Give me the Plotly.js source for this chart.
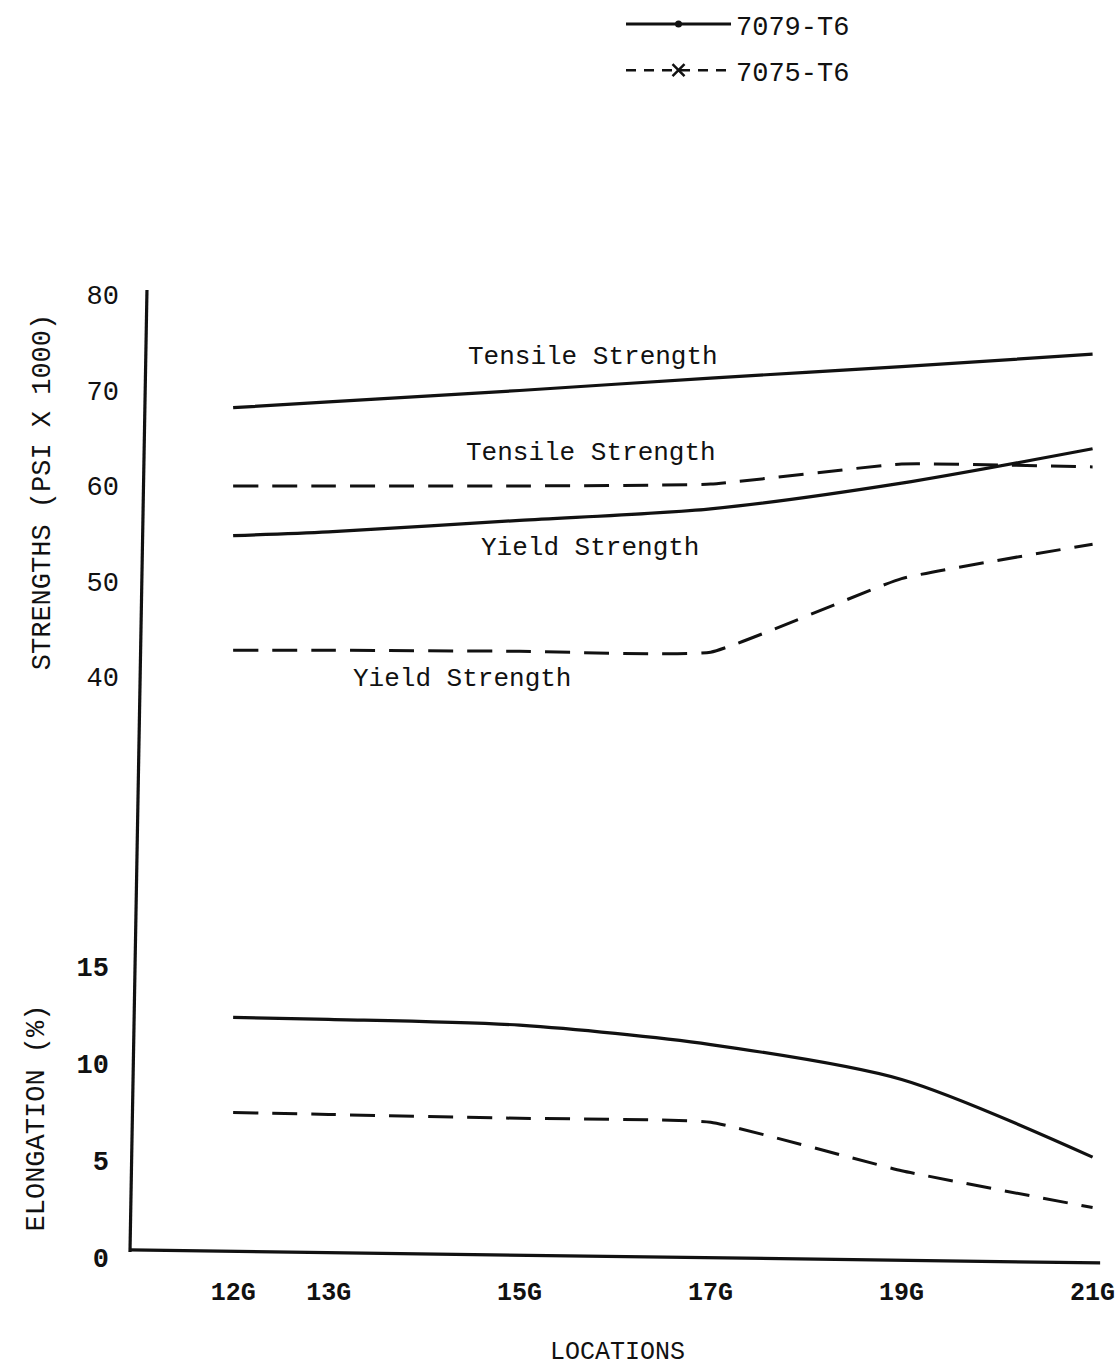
<!DOCTYPE html>
<html>
<head>
<meta charset="utf-8">
<script src="https://cdn.plot.ly/plotly-3.0.1.min.js"></script>
<style>
  html, body { margin: 0; padding: 0; background: #ffffff; }
  #chart { width: 1115px; height: 1367px; }
</style>
</head>
<body>
<div id="chart"></div>
<script>
// Locations along the part (numeric station) and their labels
const locations = [12, 13, 15, 17, 19, 21];
const locationLabels = ['12G', '13G', '15G', '17G', '19G', '21G'];

// Strengths, PSI x 1000
const tensile7079 = [68.2, 68.8, 70.0, 71.3, 72.5, 73.8];
const yield7079   = [54.8, 55.2, 56.4, 57.6, 60.3, 63.9];
const tensile7075 = [60.0, 60.0, 60.0, 60.2, 62.3, 62.0];
const yield7075   = [42.8, 42.8, 42.7, 42.6, 50.3, 53.9];

// Elongation, percent
const elong7079 = [12.4, 12.3, 12.0, 11.0, 9.2, 5.2];
const elong7075 = [7.5, 7.4, 7.2, 7.0, 4.5, 2.6];

// Axis tick values
const strengthTicks = [40, 50, 60, 70, 80];
const elongTicks = [0, 5, 10, 15];

const FONT = 'Liberation Mono, Courier New, monospace';
const INK = '#111111';
const DASH = '25px,14px';

function solid(y, axis) {
  return { x: locations, y: y, yaxis: axis, mode: 'lines', showlegend: false,
           hoverinfo: 'skip',
           line: { color: INK, width: 3.2, shape: 'spline', smoothing: 0.8 } };
}
function dashed(y, axis) {
  return { x: locations, y: y, yaxis: axis, mode: 'lines', showlegend: false,
           hoverinfo: 'skip',
           line: { color: INK, width: 3, dash: DASH, shape: 'spline', smoothing: 0.35 } };
}

const traces = [
  solid(tensile7079, 'y2'),
  solid(yield7079, 'y2'),
  dashed(tensile7075, 'y2'),
  dashed(yield7075, 'y2'),
  solid(elong7079, 'y'),
  dashed(elong7075, 'y'),
  // legend keys
  { x: [null], y: [null], yaxis: 'y2', name: '7079-T6', mode: 'lines+markers',
    legendgroup: 'a', line: { color: INK, width: 3 },
    marker: { symbol: 'circle', size: 7, color: INK } },
  { x: [null], y: [null], yaxis: 'y2', name: '7075-T6', mode: 'lines+markers',
    legendgroup: 'b', line: { color: INK, width: 2.5, dash: '10px,8px' },
    marker: { symbol: 'x-thin', size: 12, line: { color: INK, width: 2.5 } } }
];

const labelFont = { family: FONT, size: 26, color: INK };
const annotations = [
  { x: 15.77, y: 73.5, text: 'Tensile Strength' },
  { x: 15.75, y: 63.5, text: 'Tensile Strength' },
  { x: 15.74, y: 53.5, text: 'Yield Strength' },
  { x: 14.4,  y: 39.8, text: 'Yield Strength' }
].map(a => Object.assign({ xref: 'x', yref: 'y2', showarrow: false, font: labelFont }, a));

// Hand-ruled frame lines
const shapes = [
  { type: 'line', xref: 'paper', yref: 'paper', x0: 0.0174, y0: 0.7766, x1: 0.0, y1: 0.0354,
    line: { color: INK, width: 3.2 } },
  { type: 'line', xref: 'paper', yref: 'paper', x0: 0.0, y0: 0.0370, x1: 0.995, y1: 0.0270,
    line: { color: INK, width: 3.2 } }
];

const layout = {
  width: 1115, height: 1367,
  margin: { l: 130, r: 10, t: 0, b: 69 },
  paper_bgcolor: '#ffffff', plot_bgcolor: '#ffffff',
  showlegend: true,
  legend: {
    x: 0.5036, xanchor: 'left', y: 1.0, yanchor: 'top',
    font: { family: FONT, size: 27, color: INK },
    itemwidth: 105, tracegroupgap: 8, bgcolor: 'rgba(0,0,0,0)'
  },
  xaxis: {
    range: [10.92, 21.13], showgrid: false, zeroline: false, showline: false,
    anchor: 'free', position: 0.02774,
    tickmode: 'array', tickvals: locations, ticktext: locationLabels, ticks: '',
    tickfont: { family: FONT, size: 25, color: INK, weight: 'bold' },
    ticklabelstandoff: 12, ticklabeloverflow: 'allow',
    title: { text: 'LOCATIONS', font: { family: FONT, size: 25, color: INK }, standoff: 34 }
  },
  yaxis: {
    domain: [0, 0.2773], range: [-2.06, 16.49], showgrid: false, zeroline: false, showline: false,
    tickmode: 'array', tickvals: elongTicks, ticks: '',
    tickfont: { family: FONT, size: 27, color: INK, weight: 'bold' },
    ticklabelstandoff: 20,
    title: { text: 'ELONGATION (%)', font: { family: FONT, size: 27, color: INK }, standoff: 24 }
  },
  yaxis2: {
    domain: [0.4576, 0.7843], range: [37.17, 81.57], showgrid: false, zeroline: false, showline: false,
    tickmode: 'array', tickvals: strengthTicks, ticks: '',
    tickfont: { family: FONT, size: 27, color: INK },
    ticklabelstandoff: 10,
    title: { text: 'STRENGTHS (PSI X 1000)', font: { family: FONT, size: 27, color: INK }, standoff: 28 }
  },
  annotations: annotations,
  shapes: shapes
};

Plotly.newPlot('chart', traces, layout, { displayModeBar: false, staticPlot: true });
</script>
</body>
</html>
